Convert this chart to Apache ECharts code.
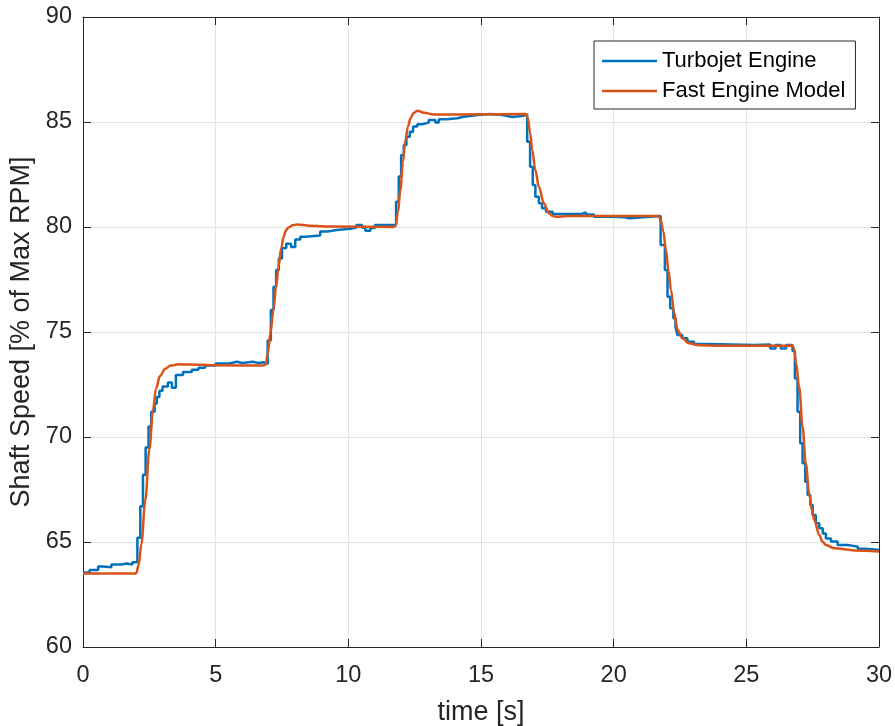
<!DOCTYPE html>
<html>
<head>
<meta charset="utf-8">
<script src="https://cdn.jsdelivr.net/npm/echarts@6/dist/echarts.min.js"></script>
<style>html,body{margin:0;padding:0;background:#fff}#c{width:895px;height:726px}</style>
</head>
<body>
<div id="c"></div>
<script>
// ---- data ----
var seriesNames = ['Turbojet Engine', 'Fast Engine Model'];
var xTicks = [0, 5, 10, 15, 20, 25, 30];
var yTicks = [60, 65, 70, 75, 80, 85, 90];

// Turbojet Engine: sampled (zero-order hold) measurements [time, value]
var turbojet = [
  [0, 63.55], [0.25, 63.67], [0.57, 63.83], [0.75, 63.8], [1.07, 63.93], [1.45, 63.98], [1.65, 63.93], [1.86, 64.03],
  [2.05, 65.2], [2.16, 66.7], [2.26, 68.2], [2.36, 69.5], [2.47, 70.5], [2.57, 71.2], [2.7, 71.6], [2.78, 71.9],
  [2.88, 72.2], [3.0, 72.4], [3.2, 72.6], [3.35, 72.35], [3.5, 72.95], [3.77, 73.1], [4.1, 73.2], [4.35, 73.3],
  [4.6, 73.4], [5.0, 73.5], [5.5, 73.58], [5.8, 73.52], [6.0, 73.58], [6.4, 73.52], [6.6, 73.56], [6.8, 73.48],
  [6.96, 74.6], [7.08, 76.05], [7.18, 77.16], [7.28, 77.95], [7.38, 78.5], [7.5, 79.0], [7.66, 79.2], [7.84, 79.05],
  [8.0, 79.41], [8.19, 79.54], [8.38, 79.6], [8.94, 79.78], [9.2, 79.86], [9.57, 79.92], [10.08, 79.97], [10.3, 80.1],
  [10.52, 79.97], [10.64, 79.82], [10.83, 79.95], [11.0, 80.1],
  [11.8, 81.2], [11.9, 82.4], [11.99, 83.43], [12.09, 83.9], [12.19, 84.3], [12.32, 84.54], [12.44, 84.78], [12.6, 84.89],
  [12.78, 84.97], [13.03, 85.1], [13.28, 84.98], [13.41, 85.13], [13.72, 85.18], [14.1, 85.25], [14.35, 85.33],
  [14.86, 85.38], [15.36, 85.33], [15.8, 85.24], [16.18, 85.3], [16.62, 85.38],
  [16.74, 84.06], [16.85, 82.87], [16.95, 82.0], [17.05, 81.44], [17.18, 81.13], [17.3, 80.89], [17.45, 80.73],
  [17.7, 80.62], [18.8, 80.7], [18.95, 80.6], [19.26, 80.49], [19.9, 80.46], [20.4, 80.42], [20.6, 80.5], [21.5, 80.52],
  [21.77, 79.14], [21.93, 77.95], [22.03, 76.68], [22.13, 76.13], [22.25, 75.65], [22.33, 75.25], [22.4, 74.86],
  [22.59, 74.7], [22.78, 74.54], [23.03, 74.43], [23.53, 74.38], [25.3, 74.4], [25.9, 74.22], [26.1, 74.38],
  [26.3, 74.22], [26.5, 74.38],
  [26.74, 74.1], [26.83, 72.79], [26.93, 71.2], [27.03, 69.7], [27.12, 68.75], [27.22, 67.87], [27.31, 67.24],
  [27.41, 66.76], [27.5, 66.29], [27.62, 65.89], [27.75, 65.65], [27.88, 65.41], [28.0, 65.17], [28.19, 65.02],
  [28.44, 64.86], [28.82, 64.78], [29.2, 64.68], [29.45, 64.65], [29.75, 64.62], [30, 64.62]
];

// Fast Engine Model: continuous response [time, value]
var fastModel = [
  [0, 63.5], [2.0, 63.5], [2.1, 63.9], [2.2, 64.9], [2.35, 67.0], [2.5, 69.4], [2.64, 71.3], [2.75, 72.3],
  [2.9, 72.9], [3.1, 73.25], [3.3, 73.4], [3.6, 73.46], [4.0, 73.45], [5.0, 73.42], [6.8, 73.4],
  [6.88, 73.45], [6.97, 74.0], [7.06, 74.94], [7.18, 76.05], [7.28, 77.2], [7.37, 78.1], [7.47, 79.0],
  [7.56, 79.54], [7.65, 79.85], [7.75, 79.98], [7.9, 80.08], [8.06, 80.12], [8.3, 80.1], [8.5, 80.06],
  [9.45, 80.02], [11.7, 80.0],
  [11.78, 80.05], [11.87, 80.7], [11.96, 81.76], [12.06, 83.1], [12.15, 84.14], [12.25, 84.8], [12.34, 85.17],
  [12.45, 85.42], [12.6, 85.54], [12.85, 85.44], [13.22, 85.36], [14, 85.36], [16.7, 85.38],
  [16.76, 85.2], [16.85, 84.5], [16.93, 83.67], [17.05, 82.71], [17.18, 81.92], [17.37, 81.13], [17.56, 80.65],
  [17.7, 80.52], [17.81, 80.49], [18.25, 80.52], [21.7, 80.52],
  [21.78, 80.3], [21.87, 79.8], [21.97, 78.9], [22.07, 77.9], [22.16, 77.0], [22.28, 75.9], [22.41, 75.1],
  [22.59, 74.7], [22.84, 74.46], [23.22, 74.37], [24, 74.35], [26.74, 74.35],
  [26.8, 74.2], [26.88, 73.5], [26.99, 72.4], [27.12, 70.49], [27.24, 68.75], [27.37, 67.32], [27.47, 66.5],
  [27.56, 66.05], [27.75, 65.33], [27.88, 65.0], [28.0, 64.86], [28.32, 64.7], [29.08, 64.6], [30, 64.55]
];

// ---- chart ----
var FONT = 'Liberation Sans, Arial, Helvetica, sans-serif';
var TXT = '#262626';
var chart = echarts.init(document.getElementById('c'), null, {renderer: 'canvas'});
var xMin = xTicks[0], xMax = xTicks[xTicks.length - 1], xInt = xTicks[1] - xTicks[0];
var yMin = yTicks[0], yMax = yTicks[yTicks.length - 1], yInt = yTicks[1] - yTicks[0];

function baseAxis(extra) {
  return Object.assign({
    type: 'value',
    axisLine: {show: true, onZero: false, lineStyle: {color: TXT, width: 1}},
    axisTick: {show: true, inside: true, length: 8, lineStyle: {color: TXT, width: 1}},
    minorTick: {show: false}
  }, extra);
}

chart.setOption({
  animation: false,
  backgroundColor: '#fff',
  textStyle: {fontFamily: FONT},
  grid: {left: 83, right: 16, top: 17, bottom: 79, containLabel: false, outerBoundsMode: 'none'},
  legend: {
    orient: 'vertical',
    left: 594, top: 41,
    data: seriesNames.map(function (n) { return {name: n, icon: 'rect'}; }),
    itemWidth: 55, itemHeight: 2.5, itemGap: 8,
    padding: [9, 10, 7, 8],
    backgroundColor: '#fff',
    borderColor: TXT, borderWidth: 1, borderRadius: 0,
    textStyle: {fontSize: 22, lineHeight: 22, color: '#000', fontFamily: FONT, padding: [0, 0, 0, 0]}
  },
  xAxis: [
    baseAxis({
      min: xMin, max: xMax, interval: xInt, position: 'bottom',
      name: 'time [s]', nameLocation: 'middle', nameGap: 52,
      nameTextStyle: {fontSize: 27, color: TXT, fontFamily: FONT},
      axisLabel: {fontSize: 23.5, color: TXT, margin: 17, fontFamily: FONT},
      splitLine: {show: true, lineStyle: {color: '#e3e3e3', width: 1}}
    }),
    baseAxis({
      min: xMin, max: xMax, interval: xInt, position: 'top',
      axisLabel: {show: false}, splitLine: {show: false}
    })
  ],
  yAxis: [
    baseAxis({
      min: yMin, max: yMax, interval: yInt, position: 'left',
      name: 'Shaft Speed [% of Max RPM]', nameLocation: 'middle', nameGap: 47,
      nameTextStyle: {fontSize: 27, color: TXT, fontFamily: FONT},
      axisLabel: {fontSize: 23.5, color: TXT, margin: 11, fontFamily: FONT},
      splitLine: {show: true, lineStyle: {color: '#e3e3e3', width: 1}}
    }),
    baseAxis({
      min: yMin, max: yMax, interval: yInt, position: 'right',
      axisLabel: {show: false}, splitLine: {show: false}
    })
  ],
  series: [
    {
      name: seriesNames[0], type: 'line', data: turbojet, step: 'end',
      xAxisIndex: 0, yAxisIndex: 0,
      showSymbol: false, symbol: 'none',
      color: '#0072BD',
      lineStyle: {color: '#0072BD', width: 2.5},
      z: 2
    },
    {
      name: seriesNames[1], type: 'line', data: fastModel,
      xAxisIndex: 0, yAxisIndex: 0,
      smooth: 0.35, smoothMonotone: 'x',
      showSymbol: false, symbol: 'none',
      color: '#D95319',
      lineStyle: {color: '#D95319', width: 2.5},
      z: 3
    }
  ]
});
</script>
</body>
</html>
